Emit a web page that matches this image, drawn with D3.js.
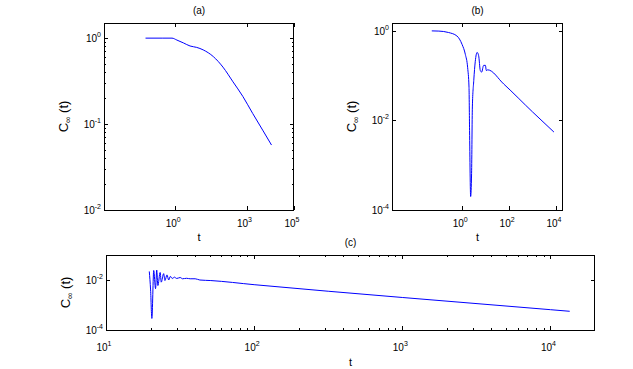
<!DOCTYPE html>
<html>
<head>
<meta charset="utf-8">
<script src="https://cdn.jsdelivr.net/npm/d3@7"></script>
<style>
  body { margin: 0; background: #fff; }
  svg text { font-family: "Liberation Sans", Arial, Helvetica, sans-serif; font-size: 10px; fill: #000; }
</style>
</head>
<body>
<svg width="633" height="369"></svg>
<script>
// panel (a)
var tA = [0.056, 0.3, 0.73, 1.17, 2.2, 4.2, 8, 15, 40, 102, 270, 700, 1820, 4800, 11300];
var cA = [1, 1, 1, 0.95, 0.88, 0.81, 0.78, 0.73, 0.61, 0.46, 0.31, 0.21, 0.133, 0.085, 0.057];
var xTicksA = [1, 1e3, 1e5];
var yTicksA = [1e-2, 1e-1, 1];

// panel (b)
var tB = [0.05, 0.1, 0.26, 0.59, 0.98, 1.35, 1.7, 1.94, 2.05, 2.28, 2.5, 2.7, 3.1, 3.6, 4.3, 5, 5.9, 6.7, 8.2, 9.7, 10.7, 12.2, 59, 1000, 8200];
var cB = [1, 0.99, 0.92, 0.77, 0.5, 0.3, 0.15, 0.055, 0.006, 0.0002, 0.00065, 0.02, 0.078, 0.21, 0.33, 0.28, 0.13, 0.12, 0.17, 0.17, 0.13, 0.135, 0.065, 0.0155, 0.0055];
var xTicksB = [1, 1e2, 1e4];
var yTicksB = [1e-4, 1e-2, 1];

// panel (c)
var tC = [19.6, 20.0, 20.4, 21, 21.6, 22, 22.4, 23.2, 23.6, 24.5, 25, 25.8, 26.5, 27.2, 28, 29, 30, 31.7, 32.8, 35, 37, 40, 43, 51, 100, 1000, 10000, 13500];
var cC = [0.022, 0.004, 0.00029, 0.024, 0.0045, 0.025, 0.006, 0.02, 0.0082, 0.018, 0.0095, 0.016, 0.01, 0.014, 0.0115, 0.013, 0.0115, 0.0126, 0.0112, 0.0117, 0.0112, 0.0112, 0.01, 0.0095, 0.0065, 0.002, 0.00065, 0.00056];
var xTicksC = [10, 1e2, 1e3, 1e4];
var yTicksC = [1e-4, 1e-2];

var svg = d3.select("svg");

function minorTicks(domain) {
  var out = [];
  var lo = Math.floor(Math.log10(domain[0])), hi = Math.ceil(Math.log10(domain[1]));
  for (var e = lo; e < hi; e++) {
    for (var k = 2; k <= 9; k++) {
      var v = k * Math.pow(10, e);
      if (v > domain[0] && v < domain[1]) out.push(v);
    }
  }
  return out;
}

function powLabel(sel, v) {
  var e = Math.round(Math.log10(v));
  sel.text("10");
  sel.append("tspan").attr("dy", -5).style("font-size", "7px").text(e);
}

function drawPanel(p) {
  var x = d3.scaleLog().domain(p.xDomain).range([p.x0, p.x1]);
  var y = d3.scaleLog().domain(p.yDomain).range([p.y1, p.y0]);
  var w = p.x1 - p.x0, h = p.y1 - p.y0;
  var g = svg.append("g");

  var gens = [d3.axisBottom, d3.axisTop, d3.axisLeft, d3.axisRight];
  var places = [
    "translate(0," + p.y1 + ")", "translate(0," + p.y0 + ")",
    "translate(" + p.x0 + ",0)", "translate(" + p.x1 + ",0)"
  ];
  gens.forEach(function (gen, i) {
    var sc = i < 2 ? x : y;
    var ag = g.append("g").attr("transform", places[i])
      .call(gen(sc).tickValues(i < 2 ? p.xTicks : p.yTicks).tickSize(-4).tickSizeOuter(0).tickFormat(""));
    ag.select(".domain").remove();
    ag.selectAll("line").attr("stroke", "#000").attr("shape-rendering", "crispEdges");
    var minor = i < 2 ? p.xMinor : p.yMinor;
    if (minor) {
      var mg = g.append("g").attr("transform", places[i])
        .call(gen(sc).tickValues(minorTicks(sc.domain())).tickSize(-2).tickSizeOuter(0).tickFormat(""));
      mg.select(".domain").remove();
      mg.selectAll("line").attr("stroke", "#000").attr("shape-rendering", "crispEdges");
    }
  });

  g.append("rect")
    .attr("x", p.x0 + 0.5).attr("y", p.y0 + 0.5)
    .attr("width", w - 1).attr("height", h)
    .attr("fill", "none").attr("stroke", "#000");

  // tick labels
  g.selectAll(".xl").data(p.xTicks).enter().append("text")
    .attr("class", "xl")
    .attr("x", function (d) { return x(d) - 2; })
    .attr("y", p.y1 + p.tickDy)
    .attr("text-anchor", "middle")
    .each(function (d) { powLabel(d3.select(this), d); });

  g.selectAll(".yl").data(p.yTicks).enter().append("text")
    .attr("class", "yl")
    .attr("x", p.x0 - 3)
    .attr("y", function (d) { return y(d) + 4; })
    .attr("text-anchor", "end")
    .each(function (d) { powLabel(d3.select(this), d); });

  g.append("text")
    .attr("x", (p.x0 + p.x1) / 2)
    .attr("y", p.y0 - 9)
    .attr("text-anchor", "middle")
    .text(p.title);

  g.append("text")
    .attr("x", (p.x0 + p.x1) / 2)
    .attr("y", p.y1 + p.tDy)
    .attr("text-anchor", "middle")
    .style("font-size", "11px")
    .text("t");

  var yl = g.append("text")
    .attr("transform", "translate(" + (p.x0 - 36) + "," + ((p.y0 + p.y1) / 2) + ") rotate(-90)")
    .attr("text-anchor", "middle")
    .style("font-size", "13px");
  yl.append("tspan").text("C");
  yl.append("tspan").attr("dy", 3).style("font-size", "9px").text("\u221e");
  yl.append("tspan").attr("dy", -3).text(" (t)");

  var line = d3.line()
    .x(function (d) { return x(d[0]); })
    .y(function (d) { return y(d[1]); })
    .curve(d3.curveMonotoneX);

  g.append("path")
    .datum(d3.zip(p.t, p.c))
    .attr("d", line)
    .attr("fill", "none")
    .attr("stroke", "#0000ff")
    .attr("stroke-width", 1);
}

drawPanel({ title: "(a)", x0: 104, x1: 294, y0: 23, y1: 210, tickDy: 17, tDy: 31,
  xDomain: [1e-3, 1e5], yDomain: [1e-2, 1.5],
  xTicks: xTicksA, yTicks: yTicksA, xMinor: false, yMinor: true, t: tA, c: cA });

drawPanel({ title: "(b)", x0: 392, x1: 563, y0: 23, y1: 210, tickDy: 17, tDy: 31,
  xDomain: [1e-3, 2e4], yDomain: [1e-4, 1.5],
  xTicks: xTicksB, yTicks: yTicksB, xMinor: false, yMinor: false, t: tB, c: cB });

drawPanel({ title: "(c)", x0: 106, x1: 595, y0: 255, y1: 330, tickDy: 21, tDy: 36,
  xDomain: [10, 2e4], yDomain: [1e-4, 1e-1],
  xTicks: xTicksC, yTicks: yTicksC, xMinor: true, yMinor: false, t: tC, c: cC });
</script>
</body>
</html>
